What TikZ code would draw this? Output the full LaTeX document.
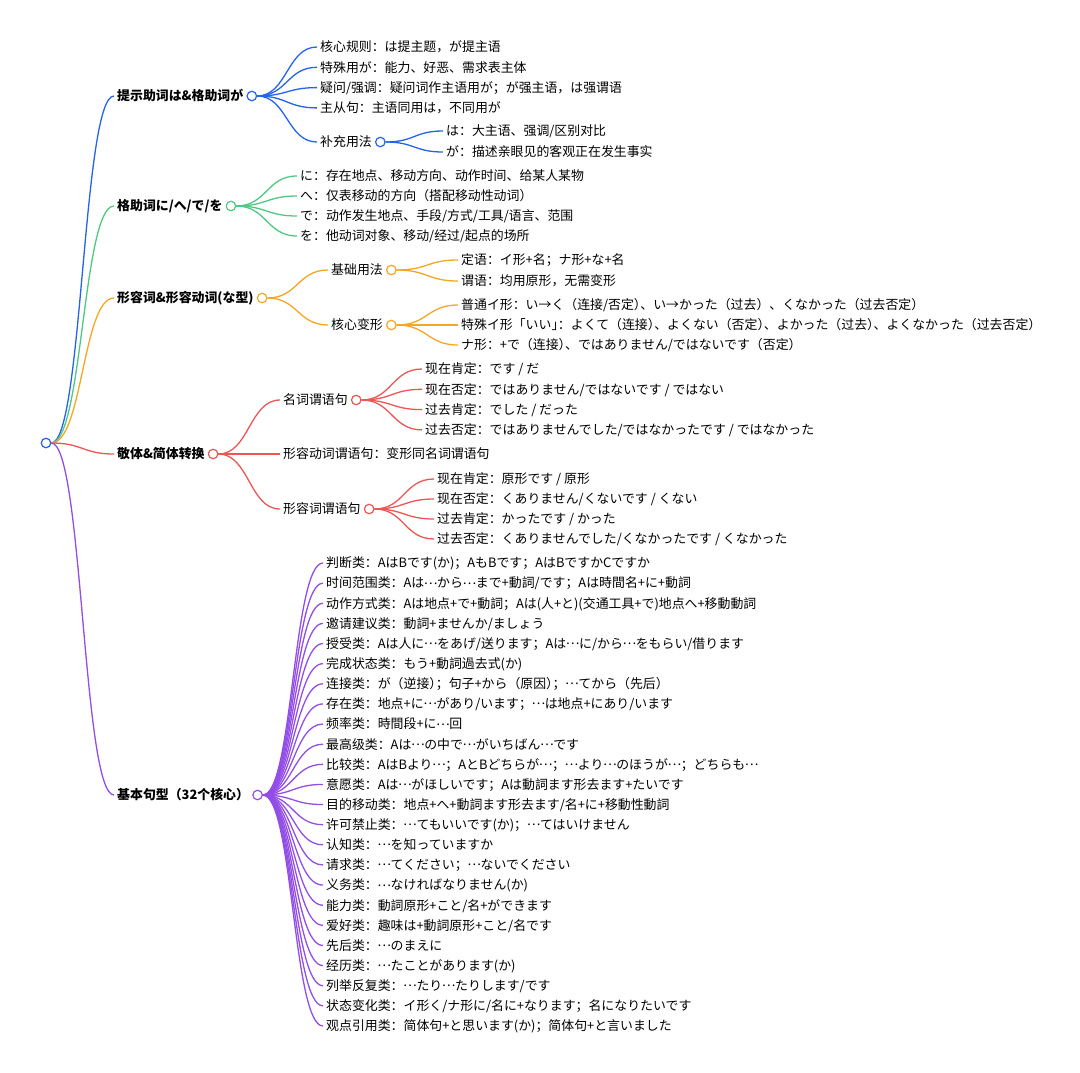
\documentclass[tikz,border=0pt]{standalone}
\usepackage{fontspec}
\setmainfont{Noto Sans CJK SC}
\usetikzlibrary{positioning,calc}
\definecolor{bluebr}{RGB}{36,100,232}
\definecolor{greenbr}{RGB}{78,200,130}
\definecolor{orangebr}{RGB}{245,166,35}
\definecolor{redbr}{RGB}{238,86,86}
\definecolor{purplebr}{RGB}{146,78,230}
% full-width, centred ellipsis
\newcommand\ellip{\makebox[1em]{\raisebox{0.3em}{…}}}
% closing bracket set half width before other punctuation
\newcommand\hc[1]{\makebox[0.5em][l]{#1}}

\begin{document}
\begin{tikzpicture}[
    x=1bp, y=-1bp,
    txt/.style={anchor=west, inner xsep=3bp, inner ysep=0pt, text height=10.6bp, text depth=0.9bp, font=\fontsize{12.9bp}{15bp}\selectfont},
    head/.style={txt, font=\fontsize{12.9bp}{15bp}\selectfont\bfseries},
    dot/.style={circle, draw=#1, fill=white, line width=1.2bp, minimum size=9.5bp, inner sep=0pt},
    link/.style={draw=#1, line width=1.3bp, to path={let \p1=(\tikztostart), \p2=(\tikztotarget) in
        .. controls ({(\x1+\x2)/2},\y1) and ({(\x1+\x2)/2},\y2) .. (\tikztotarget)}}
]
    \useasboundingbox (0,0) rectangle (1080,1073);

    % Root
    \node[dot=bluebr] (root) at (46,443) {};

    % Main branches
    \node[head] (b1) at (114,96) {提示助词は\&格助词が};
    \node[head] (b2) at (114,206) {格助词に/へ/で/を};
    \node[head] (b3) at (114,298) {形容词\&形容动词(な型)};
    \node[head] (b4) at (114,454) {敬体\&简体转换};
    \node[head] (b5) at (114,795) {基本句型（32个核心）};

    \draw[link=bluebr] (root.east) to (b1.west);
    \draw[link=greenbr] (root.east) to (b2.west);
    \draw[link=orangebr] (root.east) to (b3.west);
    \draw[link=redbr] (root.east) to (b4.west);
    \draw[link=purplebr] (root.east) to (b5.west);

    \node[dot=bluebr, right=0pt of b1] (b1c) {};
    \node[dot=greenbr, right=0pt of b2] (b2c) {};
    \node[dot=orangebr, right=0pt of b3] (b3c) {};
    \node[dot=redbr, right=0pt of b4] (b4c) {};
    \node[dot=purplebr, right=0pt of b5] (b5c) {};

    % Blue branch
    \foreach \t [count=\i] in {核心规则：は提主题，が提主语, 特殊用が：能力、好恶、需求表主体,
        疑问/强调：疑问词作主语用が；が强主语，は强谓语, 主从句：主语同用は，不同用が} {
        \node[txt] (k\i) at (317, {47+20.3*(\i-1)}) {\t};
        \draw[link=bluebr] (b1c.east) to (k\i.west);
    }
    \node[txt] (k5) at (317,142) {补充用法};
    \draw[link=bluebr] (b1c.east) to (k5.west);
    \node[dot=bluebr, right=0pt of k5] (k5c) {};
    \node[txt] (k51) at (443,131) {は：大主语、强调/区别对比};
    \node[txt] (k52) at (443,152) {が：描述亲眼见的客观正在发生事实};
    \draw[link=bluebr] (k5c.east) to (k51.west);
    \draw[link=bluebr] (k5c.east) to (k52.west);

    % Green branch
    \foreach \t [count=\i] in {に：存在地点、移动方向、动作时间、给某人某物, へ：仅表移动的方向（搭配移动性动词）,
        で：动作发生地点、手段/方式/工具/语言、范围, を：他动词对象、移动/经过/起点的场所} {
        \node[txt] (g\i) at (297, {176+20*(\i-1)}) {\t};
        \draw[link=greenbr] (b2c.east) to (g\i.west);
    }

    % Orange branch
    \node[txt] (o1) at (328,270) {基础用法};
    \node[txt] (o2) at (328,325) {核心变形};
    \draw[link=orangebr] (b3c.east) to (o1.west);
    \draw[link=orangebr] (b3c.east) to (o2.west);
    \node[dot=orangebr, right=0pt of o1] (o1c) {};
    \node[dot=orangebr, right=0pt of o2] (o2c) {};
    \foreach \t [count=\i] in {定语：イ形+名；ナ形+な+名, 谓语：均用原形，无需变形} {
        \node[txt] (oa\i) at (458, {260+21*(\i-1)}) {\t};
        \draw[link=orangebr] (o1c.east) to (oa\i.west);
    }
    \foreach \t [count=\i] in {普通イ形：い→く（连接/否定\hc{）}、い→かった（过去）、くなかった（过去否定）,
        特殊イ形「いい\hc{」}：よくて（连接\hc{）}、よくない（否定\hc{）}、よかった（过去\hc{）}、よくなかった（过去否定）,
        ナ形：+で（连接\hc{）}、ではありません/ではないです（否定）} {
        \node[txt] (ob\i) at (458, {305+20*(\i-1)}) {\t};
        \draw[link=orangebr] (o2c.east) to (ob\i.west);
    }

    % Red branch
    \node[txt] (r1) at (280,400) {名词谓语句};
    \node[txt] (r2) at (280,454) {形容动词谓语句：变形同名词谓语句};
    \node[txt] (r3) at (280,509) {形容词谓语句};
    \foreach \j in {1,2,3} {
        \draw[link=redbr] (b4c.east) to (r\j.west);
    }
    \node[dot=redbr, right=0pt of r1] (r1c) {};
    \node[dot=redbr, right=0pt of r3] (r3c) {};
    \foreach \t [count=\i] in {现在肯定：です / だ, 现在否定：ではありません/ではないです / ではない,
        过去肯定：でした / だった, 过去否定：ではありませんでした/ではなかったです / ではなかった} {
        \node[txt] (ra\i) at (422, {369+20.3*(\i-1)}) {\t};
        \draw[link=redbr] (r1c.east) to (ra\i.west);
    }
    \foreach \t [count=\i] in {现在肯定：原形です / 原形, 现在否定：くありません/くないです / くない,
        过去肯定：かったです / かった, 过去否定：くありませんでした/くなかったです / くなかった} {
        \node[txt] (rb\i) at (434, {479+20*(\i-1)}) {\t};
        \draw[link=redbr] (r3c.east) to (rb\i.west);
    }

    % Purple branch
    \foreach \t [count=\i] in {判断类：AはBです(か)；AもBです；AはBですかCですか,
        时间范围类：Aは\ellip から\ellip まで+動詞/です；Aは時間名+に+動詞,
        动作方式类：Aは地点+で+動詞；Aは(人+と)(交通工具+で)地点へ+移動動詞,
        邀请建议类：動詞+ませんか/ましょう,
        授受类：Aは人に\ellip をあげ/送ります；Aは\ellip に/から\ellip をもらい/借ります,
        完成状态类：もう+動詞過去式(か),
        连接类：が（逆接\hc{）}；句子+から（原因\hc{）}；\ellip てから（先后）,
        存在类：地点+に\ellip があり/います；\ellip は地点+にあり/います,
        频率类：時間段+に\ellip 回,
        最高级类：Aは\ellip の中で\ellip がいちばん\ellip です,
        比较类：AはBより\ellip ；AとBどちらが\ellip ；\ellip より\ellip のほうが\ellip ；どちらも\ellip,
        意愿类：Aは\ellip がほしいです；Aは動詞ます形去ます+たいです,
        目的移动类：地点+へ+動詞ます形去ます/名+に+移動性動詞,
        许可禁止类：\ellip てもいいです(か)；\ellip てはいけません,
        认知类：\ellip を知っていますか,
        请求类：\ellip てください；\ellip ないでください,
        义务类：\ellip なければなりません(か),
        能力类：動詞原形+こと/名+ができます,
        爱好类：趣味は+動詞原形+こと/名です,
        先后类：\ellip のまえに,
        经历类：\ellip たことがあります(か),
        列举反复类：\ellip たり\ellip たりします/です,
        状态变化类：イ形く/ナ形に/名に+なります；名になりたいです,
        观点引用类：简体句+と思います(か)；简体句+と言いました} {
        \node[txt] (p\i) at (323, {563+20.13*(\i-1)}) {\t};
        \draw[link=purplebr] (b5c.east) to (p\i.west);
    }
\end{tikzpicture}
\end{document}
